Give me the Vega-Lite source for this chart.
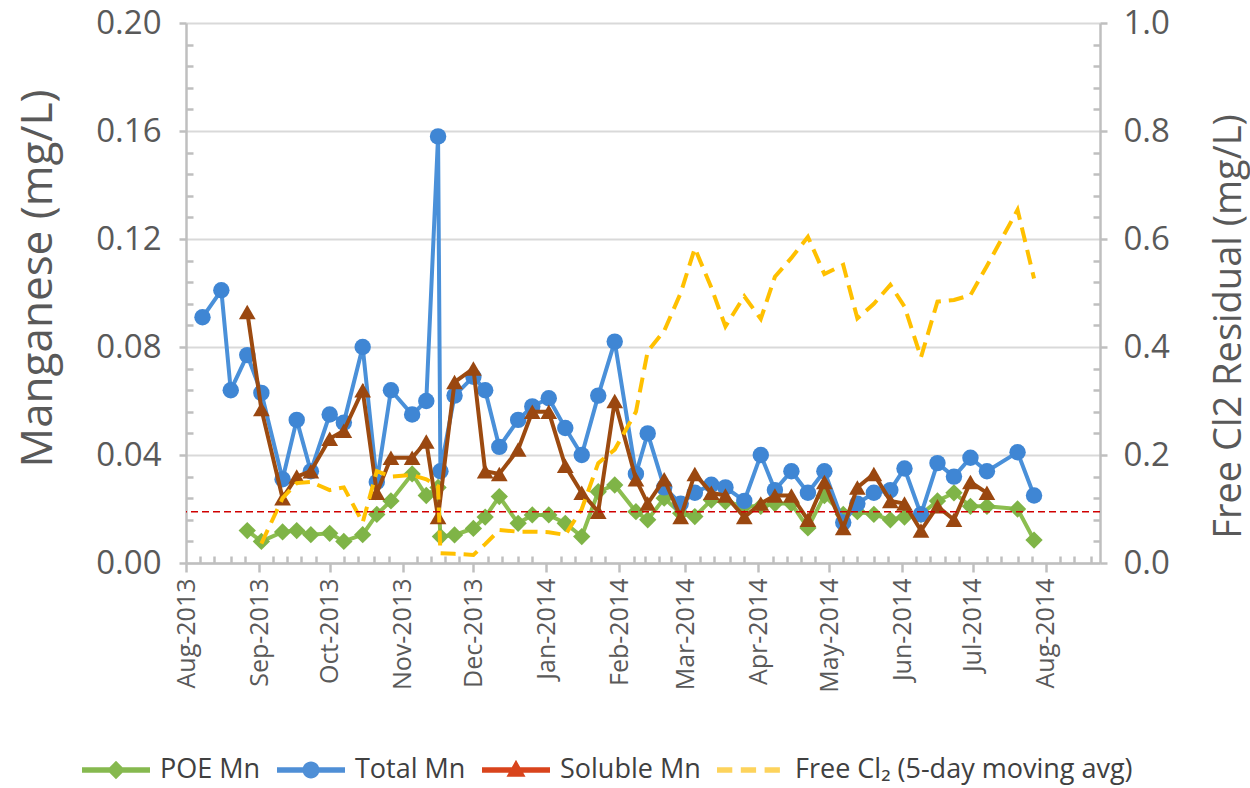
{
  "$schema": "https://vega.github.io/schema/vega-lite/v6.json",
  "width": 914,
  "height": 540,
  "autosize": {"type": "none"},
  "padding": {"left": 186, "top": 23, "right": 150, "bottom": 225},
  "background": "white",
  "config": {
    "font": "Open Sans",
    "view": {"stroke": null},
    "axis": {
      "labelColor": "#595959",
      "titleColor": "#595959",
      "domainColor": "#bfbfbf",
      "domainWidth": 2.5,
      "tickColor": "#bfbfbf",
      "tickWidth": 2.5,
      "gridColor": "#d9d9d9",
      "gridWidth": 2.2,
      "titleFontWeight": "normal",
      "labelFont": "Open Sans",
      "titleFont": "Open Sans"
    }
  },
  "datasets": {
    "mn": [
      {"series": "POE Mn", "date": "2013-08-27", "value": 0.012},
      {"series": "POE Mn", "date": "2013-09-02", "value": 0.008},
      {"series": "POE Mn", "date": "2013-09-11", "value": 0.0115},
      {"series": "POE Mn", "date": "2013-09-17", "value": 0.012},
      {"series": "POE Mn", "date": "2013-09-23", "value": 0.0105},
      {"series": "POE Mn", "date": "2013-10-01", "value": 0.011},
      {"series": "POE Mn", "date": "2013-10-07", "value": 0.008},
      {"series": "POE Mn", "date": "2013-10-15", "value": 0.0105},
      {"series": "POE Mn", "date": "2013-10-21", "value": 0.018},
      {"series": "POE Mn", "date": "2013-10-27", "value": 0.023},
      {"series": "POE Mn", "date": "2013-11-05", "value": 0.033},
      {"series": "POE Mn", "date": "2013-11-11", "value": 0.025},
      {"series": "POE Mn", "date": "2013-11-16", "value": 0.028},
      {"series": "POE Mn", "date": "2013-11-17", "value": 0.0098},
      {"series": "POE Mn", "date": "2013-11-23", "value": 0.0104},
      {"series": "POE Mn", "date": "2013-12-01", "value": 0.0128},
      {"series": "POE Mn", "date": "2013-12-06", "value": 0.017},
      {"series": "POE Mn", "date": "2013-12-12", "value": 0.0246},
      {"series": "POE Mn", "date": "2013-12-20", "value": 0.0147},
      {"series": "POE Mn", "date": "2013-12-26", "value": 0.0178},
      {"series": "POE Mn", "date": "2014-01-02", "value": 0.0178},
      {"series": "POE Mn", "date": "2014-01-09", "value": 0.0147},
      {"series": "POE Mn", "date": "2014-01-16", "value": 0.0098},
      {"series": "POE Mn", "date": "2014-01-23", "value": 0.0264},
      {"series": "POE Mn", "date": "2014-01-30", "value": 0.0289},
      {"series": "POE Mn", "date": "2014-02-08", "value": 0.019},
      {"series": "POE Mn", "date": "2014-02-13", "value": 0.016},
      {"series": "POE Mn", "date": "2014-02-20", "value": 0.024},
      {"series": "POE Mn", "date": "2014-02-27", "value": 0.0184},
      {"series": "POE Mn", "date": "2014-03-05", "value": 0.0172},
      {"series": "POE Mn", "date": "2014-03-12", "value": 0.0233},
      {"series": "POE Mn", "date": "2014-03-18", "value": 0.0227},
      {"series": "POE Mn", "date": "2014-03-26", "value": 0.021},
      {"series": "POE Mn", "date": "2014-04-02", "value": 0.021},
      {"series": "POE Mn", "date": "2014-04-08", "value": 0.022},
      {"series": "POE Mn", "date": "2014-04-15", "value": 0.022},
      {"series": "POE Mn", "date": "2014-04-22", "value": 0.013},
      {"series": "POE Mn", "date": "2014-04-29", "value": 0.025},
      {"series": "POE Mn", "date": "2014-05-07", "value": 0.018},
      {"series": "POE Mn", "date": "2014-05-13", "value": 0.019},
      {"series": "POE Mn", "date": "2014-05-20", "value": 0.018},
      {"series": "POE Mn", "date": "2014-05-27", "value": 0.016},
      {"series": "POE Mn", "date": "2014-06-02", "value": 0.017},
      {"series": "POE Mn", "date": "2014-06-09", "value": 0.018},
      {"series": "POE Mn", "date": "2014-06-16", "value": 0.023},
      {"series": "POE Mn", "date": "2014-06-23", "value": 0.026},
      {"series": "POE Mn", "date": "2014-06-30", "value": 0.021},
      {"series": "POE Mn", "date": "2014-07-07", "value": 0.021},
      {"series": "POE Mn", "date": "2014-07-20", "value": 0.020},
      {"series": "POE Mn", "date": "2014-07-27", "value": 0.0085},

      {"series": "Total Mn", "date": "2013-08-08", "value": 0.091},
      {"series": "Total Mn", "date": "2013-08-16", "value": 0.101},
      {"series": "Total Mn", "date": "2013-08-20", "value": 0.064},
      {"series": "Total Mn", "date": "2013-08-27", "value": 0.077},
      {"series": "Total Mn", "date": "2013-09-02", "value": 0.063},
      {"series": "Total Mn", "date": "2013-09-11", "value": 0.031},
      {"series": "Total Mn", "date": "2013-09-17", "value": 0.053},
      {"series": "Total Mn", "date": "2013-09-23", "value": 0.034},
      {"series": "Total Mn", "date": "2013-10-01", "value": 0.055},
      {"series": "Total Mn", "date": "2013-10-07", "value": 0.052},
      {"series": "Total Mn", "date": "2013-10-15", "value": 0.080},
      {"series": "Total Mn", "date": "2013-10-21", "value": 0.030},
      {"series": "Total Mn", "date": "2013-10-27", "value": 0.064},
      {"series": "Total Mn", "date": "2013-11-05", "value": 0.055},
      {"series": "Total Mn", "date": "2013-11-11", "value": 0.060},
      {"series": "Total Mn", "date": "2013-11-16", "value": 0.158},
      {"series": "Total Mn", "date": "2013-11-17", "value": 0.034},
      {"series": "Total Mn", "date": "2013-11-23", "value": 0.062},
      {"series": "Total Mn", "date": "2013-12-01", "value": 0.069},
      {"series": "Total Mn", "date": "2013-12-06", "value": 0.064},
      {"series": "Total Mn", "date": "2013-12-12", "value": 0.043},
      {"series": "Total Mn", "date": "2013-12-20", "value": 0.053},
      {"series": "Total Mn", "date": "2013-12-26", "value": 0.058},
      {"series": "Total Mn", "date": "2014-01-02", "value": 0.061},
      {"series": "Total Mn", "date": "2014-01-09", "value": 0.050},
      {"series": "Total Mn", "date": "2014-01-16", "value": 0.040},
      {"series": "Total Mn", "date": "2014-01-23", "value": 0.062},
      {"series": "Total Mn", "date": "2014-01-30", "value": 0.082},
      {"series": "Total Mn", "date": "2014-02-08", "value": 0.033},
      {"series": "Total Mn", "date": "2014-02-13", "value": 0.048},
      {"series": "Total Mn", "date": "2014-02-20", "value": 0.028},
      {"series": "Total Mn", "date": "2014-02-27", "value": 0.022},
      {"series": "Total Mn", "date": "2014-03-05", "value": 0.026},
      {"series": "Total Mn", "date": "2014-03-12", "value": 0.029},
      {"series": "Total Mn", "date": "2014-03-18", "value": 0.028},
      {"series": "Total Mn", "date": "2014-03-26", "value": 0.023},
      {"series": "Total Mn", "date": "2014-04-02", "value": 0.040},
      {"series": "Total Mn", "date": "2014-04-08", "value": 0.027},
      {"series": "Total Mn", "date": "2014-04-15", "value": 0.034},
      {"series": "Total Mn", "date": "2014-04-22", "value": 0.026},
      {"series": "Total Mn", "date": "2014-04-29", "value": 0.034},
      {"series": "Total Mn", "date": "2014-05-07", "value": 0.015},
      {"series": "Total Mn", "date": "2014-05-13", "value": 0.022},
      {"series": "Total Mn", "date": "2014-05-20", "value": 0.026},
      {"series": "Total Mn", "date": "2014-05-27", "value": 0.027},
      {"series": "Total Mn", "date": "2014-06-02", "value": 0.035},
      {"series": "Total Mn", "date": "2014-06-09", "value": 0.018},
      {"series": "Total Mn", "date": "2014-06-16", "value": 0.037},
      {"series": "Total Mn", "date": "2014-06-23", "value": 0.032},
      {"series": "Total Mn", "date": "2014-06-30", "value": 0.039},
      {"series": "Total Mn", "date": "2014-07-07", "value": 0.034},
      {"series": "Total Mn", "date": "2014-07-20", "value": 0.041},
      {"series": "Total Mn", "date": "2014-07-27", "value": 0.025},

      {"series": "Soluble Mn", "date": "2013-08-27", "value": 0.093},
      {"series": "Soluble Mn", "date": "2013-09-02", "value": 0.057},
      {"series": "Soluble Mn", "date": "2013-09-11", "value": 0.024},
      {"series": "Soluble Mn", "date": "2013-09-17", "value": 0.032},
      {"series": "Soluble Mn", "date": "2013-09-23", "value": 0.034},
      {"series": "Soluble Mn", "date": "2013-10-01", "value": 0.046},
      {"series": "Soluble Mn", "date": "2013-10-07", "value": 0.049},
      {"series": "Soluble Mn", "date": "2013-10-15", "value": 0.064},
      {"series": "Soluble Mn", "date": "2013-10-21", "value": 0.026},
      {"series": "Soluble Mn", "date": "2013-10-27", "value": 0.039},
      {"series": "Soluble Mn", "date": "2013-11-05", "value": 0.039},
      {"series": "Soluble Mn", "date": "2013-11-11", "value": 0.045},
      {"series": "Soluble Mn", "date": "2013-11-16", "value": 0.017},
      {"series": "Soluble Mn", "date": "2013-11-23", "value": 0.067},
      {"series": "Soluble Mn", "date": "2013-12-01", "value": 0.072},
      {"series": "Soluble Mn", "date": "2013-12-06", "value": 0.034},
      {"series": "Soluble Mn", "date": "2013-12-12", "value": 0.033},
      {"series": "Soluble Mn", "date": "2013-12-20", "value": 0.042},
      {"series": "Soluble Mn", "date": "2013-12-26", "value": 0.056},
      {"series": "Soluble Mn", "date": "2014-01-02", "value": 0.056},
      {"series": "Soluble Mn", "date": "2014-01-09", "value": 0.036},
      {"series": "Soluble Mn", "date": "2014-01-16", "value": 0.026},
      {"series": "Soluble Mn", "date": "2014-01-23", "value": 0.019},
      {"series": "Soluble Mn", "date": "2014-01-30", "value": 0.060},
      {"series": "Soluble Mn", "date": "2014-02-08", "value": 0.031},
      {"series": "Soluble Mn", "date": "2014-02-13", "value": 0.022},
      {"series": "Soluble Mn", "date": "2014-02-20", "value": 0.031},
      {"series": "Soluble Mn", "date": "2014-02-27", "value": 0.017},
      {"series": "Soluble Mn", "date": "2014-03-05", "value": 0.033},
      {"series": "Soluble Mn", "date": "2014-03-12", "value": 0.026},
      {"series": "Soluble Mn", "date": "2014-03-18", "value": 0.025},
      {"series": "Soluble Mn", "date": "2014-03-26", "value": 0.017},
      {"series": "Soluble Mn", "date": "2014-04-02", "value": 0.022},
      {"series": "Soluble Mn", "date": "2014-04-08", "value": 0.025},
      {"series": "Soluble Mn", "date": "2014-04-15", "value": 0.025},
      {"series": "Soluble Mn", "date": "2014-04-22", "value": 0.016},
      {"series": "Soluble Mn", "date": "2014-04-29", "value": 0.030},
      {"series": "Soluble Mn", "date": "2014-05-07", "value": 0.013},
      {"series": "Soluble Mn", "date": "2014-05-13", "value": 0.028},
      {"series": "Soluble Mn", "date": "2014-05-20", "value": 0.033},
      {"series": "Soluble Mn", "date": "2014-05-27", "value": 0.023},
      {"series": "Soluble Mn", "date": "2014-06-02", "value": 0.022},
      {"series": "Soluble Mn", "date": "2014-06-09", "value": 0.012},
      {"series": "Soluble Mn", "date": "2014-06-16", "value": 0.021},
      {"series": "Soluble Mn", "date": "2014-06-23", "value": 0.016},
      {"series": "Soluble Mn", "date": "2014-06-30", "value": 0.030},
      {"series": "Soluble Mn", "date": "2014-07-07", "value": 0.026}
    ],
    "cl2": [
      {"series": "Free Cl₂ (5-day moving avg)", "date": "2013-09-02", "value": 0.036},
      {"series": "Free Cl₂ (5-day moving avg)", "date": "2013-09-11", "value": 0.12},
      {"series": "Free Cl₂ (5-day moving avg)", "date": "2013-09-17", "value": 0.148},
      {"series": "Free Cl₂ (5-day moving avg)", "date": "2013-09-23", "value": 0.15},
      {"series": "Free Cl₂ (5-day moving avg)", "date": "2013-10-01", "value": 0.135},
      {"series": "Free Cl₂ (5-day moving avg)", "date": "2013-10-07", "value": 0.14},
      {"series": "Free Cl₂ (5-day moving avg)", "date": "2013-10-15", "value": 0.075},
      {"series": "Free Cl₂ (5-day moving avg)", "date": "2013-10-21", "value": 0.17},
      {"series": "Free Cl₂ (5-day moving avg)", "date": "2013-10-27", "value": 0.16},
      {"series": "Free Cl₂ (5-day moving avg)", "date": "2013-11-05", "value": 0.163},
      {"series": "Free Cl₂ (5-day moving avg)", "date": "2013-11-11", "value": 0.155},
      {"series": "Free Cl₂ (5-day moving avg)", "date": "2013-11-16", "value": 0.142},
      {"series": "Free Cl₂ (5-day moving avg)", "date": "2013-11-17", "value": 0.018},
      {"series": "Free Cl₂ (5-day moving avg)", "date": "2013-11-23", "value": 0.017},
      {"series": "Free Cl₂ (5-day moving avg)", "date": "2013-12-01", "value": 0.015},
      {"series": "Free Cl₂ (5-day moving avg)", "date": "2013-12-06", "value": 0.035},
      {"series": "Free Cl₂ (5-day moving avg)", "date": "2013-12-12", "value": 0.061},
      {"series": "Free Cl₂ (5-day moving avg)", "date": "2013-12-20", "value": 0.058},
      {"series": "Free Cl₂ (5-day moving avg)", "date": "2013-12-26", "value": 0.058},
      {"series": "Free Cl₂ (5-day moving avg)", "date": "2014-01-02", "value": 0.057},
      {"series": "Free Cl₂ (5-day moving avg)", "date": "2014-01-09", "value": 0.052},
      {"series": "Free Cl₂ (5-day moving avg)", "date": "2014-01-16", "value": 0.10},
      {"series": "Free Cl₂ (5-day moving avg)", "date": "2014-01-23", "value": 0.185},
      {"series": "Free Cl₂ (5-day moving avg)", "date": "2014-01-30", "value": 0.21},
      {"series": "Free Cl₂ (5-day moving avg)", "date": "2014-02-08", "value": 0.28},
      {"series": "Free Cl₂ (5-day moving avg)", "date": "2014-02-13", "value": 0.392},
      {"series": "Free Cl₂ (5-day moving avg)", "date": "2014-02-20", "value": 0.43},
      {"series": "Free Cl₂ (5-day moving avg)", "date": "2014-02-27", "value": 0.50},
      {"series": "Free Cl₂ (5-day moving avg)", "date": "2014-03-05", "value": 0.583},
      {"series": "Free Cl₂ (5-day moving avg)", "date": "2014-03-12", "value": 0.51},
      {"series": "Free Cl₂ (5-day moving avg)", "date": "2014-03-18", "value": 0.438},
      {"series": "Free Cl₂ (5-day moving avg)", "date": "2014-03-26", "value": 0.494},
      {"series": "Free Cl₂ (5-day moving avg)", "date": "2014-04-02", "value": 0.452},
      {"series": "Free Cl₂ (5-day moving avg)", "date": "2014-04-08", "value": 0.53},
      {"series": "Free Cl₂ (5-day moving avg)", "date": "2014-04-15", "value": 0.565},
      {"series": "Free Cl₂ (5-day moving avg)", "date": "2014-04-22", "value": 0.604},
      {"series": "Free Cl₂ (5-day moving avg)", "date": "2014-04-29", "value": 0.535},
      {"series": "Free Cl₂ (5-day moving avg)", "date": "2014-05-07", "value": 0.552},
      {"series": "Free Cl₂ (5-day moving avg)", "date": "2014-05-13", "value": 0.453},
      {"series": "Free Cl₂ (5-day moving avg)", "date": "2014-05-20", "value": 0.48},
      {"series": "Free Cl₂ (5-day moving avg)", "date": "2014-05-27", "value": 0.515},
      {"series": "Free Cl₂ (5-day moving avg)", "date": "2014-06-02", "value": 0.475},
      {"series": "Free Cl₂ (5-day moving avg)", "date": "2014-06-09", "value": 0.381},
      {"series": "Free Cl₂ (5-day moving avg)", "date": "2014-06-16", "value": 0.484},
      {"series": "Free Cl₂ (5-day moving avg)", "date": "2014-06-23", "value": 0.487},
      {"series": "Free Cl₂ (5-day moving avg)", "date": "2014-06-30", "value": 0.496},
      {"series": "Free Cl₂ (5-day moving avg)", "date": "2014-07-07", "value": 0.55},
      {"series": "Free Cl₂ (5-day moving avg)", "date": "2014-07-20", "value": 0.654},
      {"series": "Free Cl₂ (5-day moving avg)", "date": "2014-07-27", "value": 0.527}
    ],
    "limit": [
      {"label": "reference level", "value": 0.019}
    ]
  },
  "layer": [
    {
      "data": {"name": "mn"},
      "transform": [{"filter": "datum.series == 'POE Mn'"}],
      "mark": {"type": "line", "strokeWidth": 4},
      "encoding": {
        "x": {
          "field": "date",
          "type": "temporal",
          "scale": {"type": "utc", "domain": [{"year": 2013, "month": 8, "date": 1, "utc": true}, {"year": 2014, "month": 8, "date": 24, "utc": true}]},
          "axis": {
            "title": null,
            "tickCount": 100,
            "values": [
              {"year": 2013, "month": 8, "date": 1, "utc": true},
              {"year": 2013, "month": 8, "date": 7, "utc": true},
              {"year": 2013, "month": 8, "date": 13, "utc": true},
              {"year": 2013, "month": 8, "date": 20, "utc": true},
              {"year": 2013, "month": 8, "date": 26, "utc": true},
              {"year": 2013, "month": 9, "date": 1, "utc": true},
              {"year": 2013, "month": 9, "date": 7, "utc": true},
              {"year": 2013, "month": 9, "date": 13, "utc": true},
              {"year": 2013, "month": 9, "date": 19, "utc": true},
              {"year": 2013, "month": 9, "date": 25, "utc": true},
              {"year": 2013, "month": 10, "date": 1, "utc": true},
              {"year": 2013, "month": 10, "date": 7, "utc": true},
              {"year": 2013, "month": 10, "date": 13, "utc": true},
              {"year": 2013, "month": 10, "date": 20, "utc": true},
              {"year": 2013, "month": 10, "date": 26, "utc": true},
              {"year": 2013, "month": 11, "date": 1, "utc": true},
              {"year": 2013, "month": 11, "date": 7, "utc": true},
              {"year": 2013, "month": 11, "date": 13, "utc": true},
              {"year": 2013, "month": 11, "date": 19, "utc": true},
              {"year": 2013, "month": 11, "date": 25, "utc": true},
              {"year": 2013, "month": 12, "date": 1, "utc": true},
              {"year": 2013, "month": 12, "date": 7, "utc": true},
              {"year": 2013, "month": 12, "date": 13, "utc": true},
              {"year": 2013, "month": 12, "date": 20, "utc": true},
              {"year": 2013, "month": 12, "date": 26, "utc": true},
              {"year": 2014, "month": 1, "date": 1, "utc": true},
              {"year": 2014, "month": 1, "date": 7, "utc": true},
              {"year": 2014, "month": 1, "date": 13, "utc": true},
              {"year": 2014, "month": 1, "date": 20, "utc": true},
              {"year": 2014, "month": 1, "date": 26, "utc": true},
              {"year": 2014, "month": 2, "date": 1, "utc": true},
              {"year": 2014, "month": 2, "date": 7, "utc": true},
              {"year": 2014, "month": 2, "date": 12, "utc": true},
              {"year": 2014, "month": 2, "date": 18, "utc": true},
              {"year": 2014, "month": 2, "date": 23, "utc": true},
              {"year": 2014, "month": 3, "date": 1, "utc": true},
              {"year": 2014, "month": 3, "date": 7, "utc": true},
              {"year": 2014, "month": 3, "date": 13, "utc": true},
              {"year": 2014, "month": 3, "date": 20, "utc": true},
              {"year": 2014, "month": 3, "date": 26, "utc": true},
              {"year": 2014, "month": 4, "date": 1, "utc": true},
              {"year": 2014, "month": 4, "date": 7, "utc": true},
              {"year": 2014, "month": 4, "date": 13, "utc": true},
              {"year": 2014, "month": 4, "date": 19, "utc": true},
              {"year": 2014, "month": 4, "date": 25, "utc": true},
              {"year": 2014, "month": 5, "date": 1, "utc": true},
              {"year": 2014, "month": 5, "date": 7, "utc": true},
              {"year": 2014, "month": 5, "date": 13, "utc": true},
              {"year": 2014, "month": 5, "date": 20, "utc": true},
              {"year": 2014, "month": 5, "date": 26, "utc": true},
              {"year": 2014, "month": 6, "date": 1, "utc": true},
              {"year": 2014, "month": 6, "date": 7, "utc": true},
              {"year": 2014, "month": 6, "date": 13, "utc": true},
              {"year": 2014, "month": 6, "date": 19, "utc": true},
              {"year": 2014, "month": 6, "date": 25, "utc": true},
              {"year": 2014, "month": 7, "date": 1, "utc": true},
              {"year": 2014, "month": 7, "date": 7, "utc": true},
              {"year": 2014, "month": 7, "date": 13, "utc": true},
              {"year": 2014, "month": 7, "date": 20, "utc": true},
              {"year": 2014, "month": 7, "date": 26, "utc": true},
              {"year": 2014, "month": 8, "date": 1, "utc": true},
              {"year": 2014, "month": 8, "date": 7, "utc": true},
              {"year": 2014, "month": 8, "date": 13, "utc": true},
              {"year": 2014, "month": 8, "date": 20, "utc": true}
            ],
            "labelExpr": "utcdate(datum.value) == 1 ? utcFormat(datum.value, '%b-%Y') : ''",
            "labelAngle": -90,
            "labelFontSize": 25,
            "labelPadding": 6,
            "labelOverlap": false,
            "tickSize": {"condition": {"test": "utcdate(datum.value) == 1", "value": 9}, "value": -7},
            "grid": false
          }
        },
        "y": {
          "field": "value",
          "type": "quantitative",
          "scale": {"domain": [0, 0.2]},
          "axis": {
            "title": "Manganese (mg/L)",
            "tickCount": 100,
            "values": [0, 0.008, 0.016, 0.024, 0.032, 0.04, 0.048, 0.056, 0.064, 0.072, 0.08, 0.088, 0.096, 0.104, 0.112, 0.12, 0.128, 0.136, 0.144, 0.152, 0.16, 0.168, 0.176, 0.184, 0.192, 0.2],
            "labelExpr": "abs(datum.value * 25 - round(datum.value * 25)) < 0.01 ? format(datum.value, '.2f') : ''",
            "labelFontSize": 33,
            "labelPadding": 18,
            "labelOverlap": false,
            "tickSize": {"condition": {"test": "abs(datum.value * 25 - round(datum.value * 25)) < 0.01", "value": 7}, "value": -7},
            "grid": true,
            "gridOpacity": {"condition": {"test": "abs(datum.value * 25 - round(datum.value * 25)) < 0.01", "value": 1}, "value": 0},
            "titleFontSize": 44,
            "titleAngle": -90,
            "titleBaseline": "alphabetic",
            "titleAlign": "center",
            "titleX": -135,
            "titleY": 255
          }
        },
        "color": {
          "field": "series",
          "type": "nominal",
          "scale": {
            "domain": ["POE Mn", "Total Mn", "Soluble Mn", "Free Cl₂ (5-day moving avg)"],
            "range": ["#8cbe50", "#4a90d9", "#9c4a10", "#ffc000"]
          },
          "legend": {
            "title": null,
            "orient": "none",
            "legendX": -104,
            "legendY": 713,
            "direction": "horizontal",
            "padding": 0,
            "symbolSize": 4624,
            "symbolStrokeWidth": 0,
            "symbolOpacity": 1,
            "labelFontSize": 27,
            "labelColor": "#404040",
            "labelOffset": 10,
            "columnPadding": 16,
            "labelLimit": 600,
            "encode": {
              "symbols": {
                "update": {
                  "shape": {"signal": "datum.value == 'POE Mn' ? 'M-1,-0.08H1V0.08H-1Z M0,-0.27L0.27,0L0,0.27L-0.27,0Z' : datum.value == 'Total Mn' ? 'M-1,-0.08H1V0.08H-1Z M0.25,0A0.25,0.25 0 1,1 -0.25,0A0.25,0.25 0 1,1 0.25,0Z' : datum.value == 'Soluble Mn' ? 'M-1,-0.08H1V0.08H-1Z M0,-0.3L0.28,0.2L-0.28,0.2Z' : 'M-1,-0.08H-0.55V0.08H-1Z M-0.3,-0.08H0.15V0.08H-0.3Z M0.4,-0.08H0.85V0.08H0.4Z'"},
                  "fill": {"signal": "datum.value == 'POE Mn' ? '#86b94f' : datum.value == 'Total Mn' ? '#4f8fd6' : datum.value == 'Soluble Mn' ? '#d9441c' : '#fdd35c'"},
                  "strokeWidth": {"value": 0},
                  "opacity": {"value": 1}
                }
              }
            }
          }
        }
      }
    },
    {
      "data": {"name": "mn"},
      "transform": [{"filter": "datum.series == 'POE Mn'"}],
      "mark": {"type": "point", "filled": true, "shape": "diamond", "size": 300, "opacity": 1},
      "encoding": {
        "x": {"field": "date", "type": "temporal"},
        "y": {"field": "value", "type": "quantitative", "scale": {"domain": [0, 0.2]}, "axis": null},
        "fill": {
          "field": "series",
          "type": "nominal",
          "scale": {
            "domain": ["POE Mn", "Total Mn", "Soluble Mn"],
            "range": ["#7fb447", "#3f86d4", "#9a4710"]
          },
          "legend": null
        }
      }
    },
    {
      "data": {"name": "mn"},
      "transform": [{"filter": "datum.series == 'Total Mn'"}],
      "mark": {"type": "line", "strokeWidth": 4},
      "encoding": {
        "x": {"field": "date", "type": "temporal"},
        "y": {"field": "value", "type": "quantitative", "scale": {"domain": [0, 0.2]}, "axis": null},
        "color": {"field": "series", "type": "nominal"}
      }
    },
    {
      "data": {"name": "mn"},
      "transform": [{"filter": "datum.series == 'Total Mn'"}],
      "mark": {"type": "point", "filled": true, "shape": "circle", "size": 270, "opacity": 1},
      "encoding": {
        "x": {"field": "date", "type": "temporal"},
        "y": {"field": "value", "type": "quantitative", "scale": {"domain": [0, 0.2]}, "axis": null},
        "fill": {"field": "series", "type": "nominal", "legend": null}
      }
    },
    {
      "data": {"name": "mn"},
      "transform": [{"filter": "datum.series == 'Soluble Mn'"}],
      "mark": {"type": "line", "strokeWidth": 4},
      "encoding": {
        "x": {"field": "date", "type": "temporal"},
        "y": {"field": "value", "type": "quantitative", "scale": {"domain": [0, 0.2]}, "axis": null},
        "color": {"field": "series", "type": "nominal"}
      }
    },
    {
      "data": {"name": "mn"},
      "transform": [{"filter": "datum.series == 'Soluble Mn'"}],
      "mark": {"type": "point", "filled": true, "shape": "triangle-up", "size": 280, "opacity": 1},
      "encoding": {
        "x": {"field": "date", "type": "temporal"},
        "y": {"field": "value", "type": "quantitative", "scale": {"domain": [0, 0.2]}, "axis": null},
        "fill": {"field": "series", "type": "nominal", "legend": null}
      }
    },
    {
      "data": {"name": "cl2"},
      "mark": {"type": "line", "strokeWidth": 4, "strokeDash": [15, 8]},
      "encoding": {
        "x": {"field": "date", "type": "temporal"},
        "y": {
          "field": "value",
          "type": "quantitative",
          "scale": {"domain": [0, 1]},
          "axis": {
            "orient": "right",
            "title": "Free Cl2 Residual (mg/L)",
            "tickCount": 100,
            "values": [0, 0.04, 0.08, 0.12, 0.16, 0.2, 0.24, 0.28, 0.32, 0.36, 0.4, 0.44, 0.48, 0.52, 0.56, 0.6, 0.64, 0.68, 0.72, 0.76, 0.8, 0.84, 0.88, 0.92, 0.96, 1.0],
            "labelExpr": "abs(datum.value * 5 - round(datum.value * 5)) < 0.01 ? format(datum.value, '.1f') : ''",
            "labelOverlap": false,
            "grid": false,
            "labelFontSize": 33,
            "labelPadding": 16,
            "tickSize": {"condition": {"test": "abs(datum.value * 5 - round(datum.value * 5)) < 0.01", "value": 7}, "value": -7},
            "titleFontSize": 38,
            "titleAngle": -90,
            "titleBaseline": "alphabetic",
            "titleAlign": "center",
            "titleX": 140,
            "titleY": 303
          }
        },
        "color": {"field": "series", "type": "nominal"}
      }
    },
    {
      "data": {"name": "limit"},
      "mark": {"type": "rule", "color": "#d00000", "strokeWidth": 1.4, "strokeDash": [7, 4]},
      "encoding": {
        "y": {"field": "value", "type": "quantitative", "scale": {"domain": [0, 0.2]}, "axis": null}
      }
    }
  ],
  "resolve": {"scale": {"y": "independent"}}
}
